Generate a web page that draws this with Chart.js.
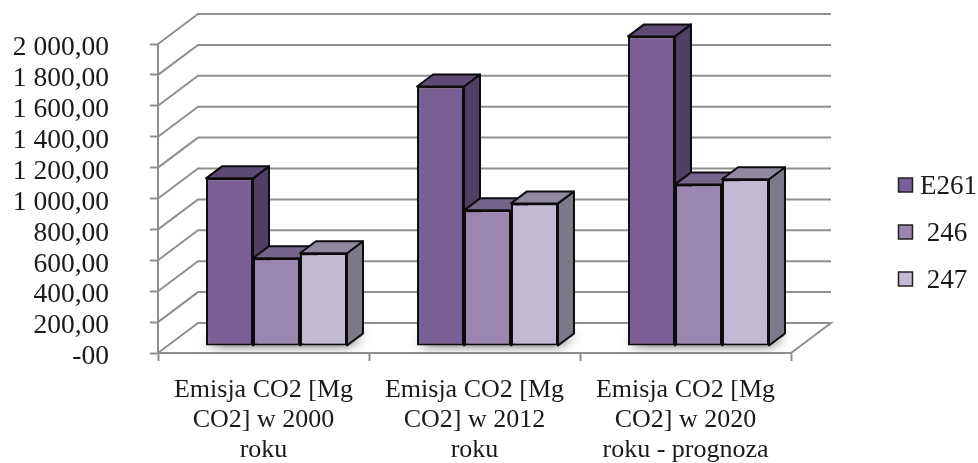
<!DOCTYPE html>
<html>
<head>
<meta charset="utf-8">
<title>Emisja CO2</title>
<script src="https://cdn.jsdelivr.net/npm/chart.js@4"></script>
<style>
html,body{margin:0;padding:0;background:#fff;}
canvas{display:block;}
</style>
</head>
<body>
<canvas id="myChart" width="978" height="463"></canvas>
<script>
let categories=[
    ["Emisja CO2 [Mg","CO2] w 2000","roku"],
    ["Emisja CO2 [Mg","CO2] w 2012","roku"],
    ["Emisja CO2 [Mg","CO2] w 2020","roku - prognoza"]
];
let seriesNames=["E261"," 246"," 247"];
let valuesE261=[1085,1680,2004];
let values246=[568,878,1046];
let values247=[600,923,1079];
let yTickLabels=["-00","200,00","400,00","600,00","800,00","1 000,00","1 200,00","1 400,00","1 600,00","1 800,00","2 000,00"];

let frontColors=["#7a5f97","#9b86b0","#c2b9d3"];
let topColors=["#5f4a76","#77648a","#918a9f"];
let sideColors=["#503f64","#665878","#7c7a88"];

let gridColor="#8f8f8f";
let edgeColor="#0c0c0c";
let textColor="#1a1a1a";
let fontName="'Liberation Serif'";

// how far the back wall sits behind the front of the floor
let wallX=40, wallY=-30;
// where the bars stand on the floor, and how deep they are
let barShiftX=13, barShiftY=-7;
let depthX=16, depthY=-12;

function face(ctx,points,fill){
    ctx.beginPath();
    ctx.moveTo(points[0][0],points[0][1]);
    for(let i=1;i<points.length;i++){
        ctx.lineTo(points[i][0],points[i][1]);
    }
    ctx.closePath();
    ctx.fillStyle=fill;
    ctx.fill();
    ctx.lineWidth=2;
    ctx.strokeStyle=edgeColor;
    ctx.lineJoin="round";
    ctx.stroke();
}

function drawWalls(chart){
    let ctx=chart.ctx;
    let area=chart.chartArea;
    let y=chart.scales.y;
    ctx.save();
    ctx.strokeStyle=gridColor;
    ctx.lineWidth=2;
    y.ticks.forEach(function(tick){
        let py=y.getPixelForValue(tick.value);
        ctx.beginPath();
        ctx.moveTo(area.left,py);
        ctx.lineTo(area.left+wallX,py+wallY);
        ctx.lineTo(area.right+wallX,py+wallY);
        if(tick.value===0){
            ctx.lineTo(area.right,py);
        }
        ctx.stroke();
    });
    ctx.restore();
}

function drawShadows(chart){
    let ctx=chart.ctx;
    let first=chart.getDatasetMeta(0).data;
    let last=chart.getDatasetMeta(2).data;
    ctx.save();
    ctx.shadowColor="rgba(0,0,0,0.8)";
    ctx.shadowBlur=12;
    ctx.fillStyle="#888";
    first.forEach(function(bar,i){
        let left=bar.x-bar.width/2;
        let right=last[i].x+last[i].width/2;
        let base=bar.base;
        ctx.beginPath();
        ctx.moveTo(left+1,base-1);
        ctx.lineTo(right,base-1);
        ctx.lineTo(right+depthX,base+depthY+2);
        ctx.lineTo(left+depthX,base+depthY+2);
        ctx.closePath();
        ctx.fill();
    });
    ctx.restore();
}

function drawBarDepth(chart){
    let ctx=chart.ctx;
    for(let c=0;c<categories.length;c++){
        for(let s=0;s<seriesNames.length;s++){
            let bar=chart.getDatasetMeta(s).data[c];
            let right=bar.x+bar.width/2;
            let left=bar.x-bar.width/2;
            face(ctx,[[right,bar.y],[right+depthX,bar.y+depthY],[right+depthX,bar.base+depthY],[right,bar.base]],sideColors[s]);
            face(ctx,[[left,bar.y],[left+depthX,bar.y+depthY],[right+depthX,bar.y+depthY],[right,bar.y]],topColors[s]);
        }
    }
}

function drawLegend(chart){
    let ctx=chart.ctx;
    let rows=[185,232,279];
    ctx.save();
    ctx.font="27px "+fontName;
    ctx.textBaseline="middle";
    for(let i=0;i<seriesNames.length;i++){
        ctx.fillStyle=frontColors[i];
        ctx.fillRect(898.5,rows[i]-7,14,14);
        ctx.strokeStyle="#222";
        ctx.lineWidth=1.5;
        ctx.strokeRect(898.5,rows[i]-7,14,14);
        ctx.fillStyle=textColor;
        ctx.fillText(seriesNames[i],920,rows[i]+2);
    }
    ctx.restore();
}

let box3d={
    id:"box3d",
    beforeDatasetsDraw:function(chart){
        drawWalls(chart);
        chart.ctx.save();
        chart.ctx.translate(barShiftX,barShiftY);
        drawShadows(chart);
        drawBarDepth(chart);
    },
    afterDatasetsDraw:function(chart){
        chart.ctx.restore();
        drawLegend(chart);
    }
};

function makeSeries(i,values){
    return {
        label:seriesNames[i],
        data:values,
        backgroundColor:frontColors[i],
        borderColor:edgeColor,
        borderWidth:2,
        borderSkipped:false,
        clip:false
    };
}

new Chart("myChart",{
    type:"bar",
    data:{
        labels:categories,
        datasets:[makeSeries(0,valuesE261),makeSeries(1,values246),makeSeries(2,values247)]
    },
    plugins:[box3d],
    options:{
        responsive:false,
        animation:false,
        categoryPercentage:0.668,
        barPercentage:1,
        layout:{padding:{top:44,right:187,left:0,bottom:0}},
        plugins:{legend:{display:false},title:{display:false},tooltip:{enabled:false}},
        scales:{
            x:{
                afterFit:function(axis){axis.height=110;axis.paddingLeft=0;axis.paddingRight=0;},
                border:{color:gridColor,width:2},
                grid:{drawOnChartArea:false,drawTicks:true,tickLength:8,tickWidth:2,color:gridColor,tickColor:gridColor},
                ticks:{
                    color:textColor,
                    autoSkip:false,
                    maxRotation:0,
                    padding:14,
                    font:{family:fontName,size:26,lineHeight:1.16}
                }
            },
            y:{
                min:0,
                max:2000,
                afterFit:function(axis){axis.width=158;axis.paddingTop=0;axis.paddingBottom=0;},
                border:{color:gridColor,width:2},
                grid:{drawOnChartArea:false,drawTicks:true,tickLength:8,tickWidth:2,color:gridColor,tickColor:gridColor},
                ticks:{
                    stepSize:200,
                    autoSkip:false,
                    color:textColor,
                    padding:41,
                    labelOffset:4,
                    font:{family:fontName,size:27.5},
                    callback:function(value,index){return yTickLabels[index];}
                }
            }
        }
    }
});
</script>
</body>
</html>
